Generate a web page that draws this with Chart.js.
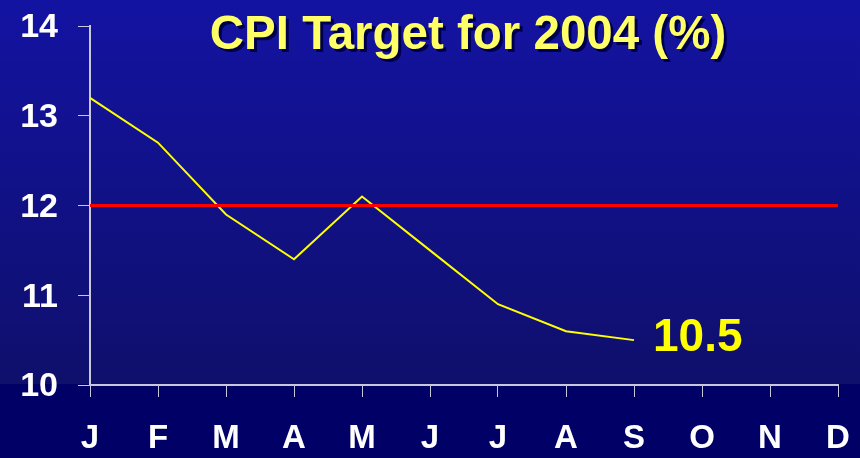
<!DOCTYPE html>
<html>
<head>
<meta charset="utf-8">
<script src="https://cdn.jsdelivr.net/npm/chart.js@4.4.1/dist/chart.umd.min.js"></script>
<style>
    body { margin: 0; background: #000066; }
    canvas { display: block; }
</style>
</head>
<body>
<canvas id="cpi" width="860" height="458"></canvas>
<script>
// Chart data
const months = ['J', 'F', 'M', 'A', 'M', 'J', 'J', 'A', 'S', 'O', 'N', 'D'];
const cpiValues = [13.2, 12.7, 11.9, 11.4, 12.1, 11.5, 10.9, 10.6, 10.5];
const targetValues = [12, 12, 12, 12, 12, 12, 12, 12, 12, 12, 12, 12];
const yTicks = [10, 11, 12, 13, 14];
const titleText = 'CPI Target for 2004 (%)';
const lastLabel = '10.5';

const axisColor = '#c8c8dc';
const fontFamily = 'Arial, "Liberation Sans", sans-serif';

// Slide background: blue gradient, darker band under the plot
const backgroundPlugin = {
    id: 'slideBackground',
    beforeDraw(chart) {
        const ctx = chart.ctx;
        const bottom = chart.chartArea.bottom - 1;
        const grad = ctx.createLinearGradient(0, 0, 0, bottom);
        grad.addColorStop(0, '#1313a2');
        grad.addColorStop(1, '#0f0f6c');
        ctx.save();
        ctx.fillStyle = grad;
        ctx.fillRect(0, 0, chart.width, bottom);
        ctx.fillStyle = '#000066';
        ctx.fillRect(0, bottom, chart.width, chart.height - bottom);
        ctx.restore();
    }
};

// Title with drop shadow and end value label
const textPlugin = {
    id: 'slideText',
    afterDraw(chart) {
        const ctx = chart.ctx;
        ctx.save();
        ctx.font = 'bold 47.5px ' + fontFamily;
        ctx.textAlign = 'center';
        ctx.textBaseline = 'alphabetic';
        ctx.fillStyle = '#00004a';
        ctx.fillText(titleText, 471, 52);
        ctx.fillStyle = '#ffff66';
        ctx.fillText(titleText, 468, 49);

        const meta = chart.getDatasetMeta(0);
        const last = meta.data[cpiValues.length - 1];
        ctx.font = 'bold 46px ' + fontFamily;
        ctx.textAlign = 'left';
        ctx.textBaseline = 'middle';
        ctx.fillStyle = '#ffff00';
        ctx.fillText(lastLabel, last.x + 19, last.y - 2);
        ctx.restore();
    }
};

// keep label overflow from shrinking the plot area
function noScalePadding(scale) {
    scale.paddingTop = 0;
    scale.paddingBottom = 0;
    scale.paddingLeft = 0;
    scale.paddingRight = 0;
}

new Chart(document.getElementById('cpi'), {
    type: 'line',
    data: {
        labels: months,
        datasets: [{
            label: 'CPI',
            data: cpiValues,
            borderColor: '#ffff00',
            borderWidth: 2,
            pointRadius: 0,
            tension: 0,
            fill: false,
            order: 2
        }, {
            label: 'Target',
            data: targetValues,
            borderColor: '#ff0000',
            borderWidth: 3,
            pointRadius: 0,
            tension: 0,
            fill: false,
            order: 1
        }]
    },
    options: {
        responsive: false,
        animation: false,
        layout: { padding: { top: 26, right: 22, left: 0, bottom: 0 } },
        plugins: {
            legend: { display: false },
            tooltip: { enabled: false }
        },
        scales: {
            x: {
                offset: false,
                grid: { drawOnChartArea: false, tickLength: 12, tickColor: axisColor },
                border: { color: axisColor, width: 2 },
                ticks: {
                    color: '#ffffff',
                    font: { family: fontFamily, weight: 'bold', size: 33 },
                    padding: 22,
                    maxRotation: 0,
                    autoSkip: false
                },
                afterFit(scale) {
                    scale.height = 73;
                    noScalePadding(scale);
                }
            },
            y: {
                min: 10,
                max: 14,
                afterBuildTicks(scale) { scale.ticks = yTicks.map(v => ({ value: v })); },
                grid: { drawOnChartArea: false, tickLength: 12, tickColor: axisColor },
                border: { color: axisColor, width: 2 },
                ticks: {
                    color: '#ffffff',
                    font: { family: fontFamily, weight: 'bold', size: 34 },
                    padding: 20,
                    labelOffset: 2
                },
                afterFit(scale) {
                    scale.width = 90;
                    noScalePadding(scale);
                }
            }
        }
    },
    plugins: [backgroundPlugin, textPlugin]
});
</script>
</body>
</html>
